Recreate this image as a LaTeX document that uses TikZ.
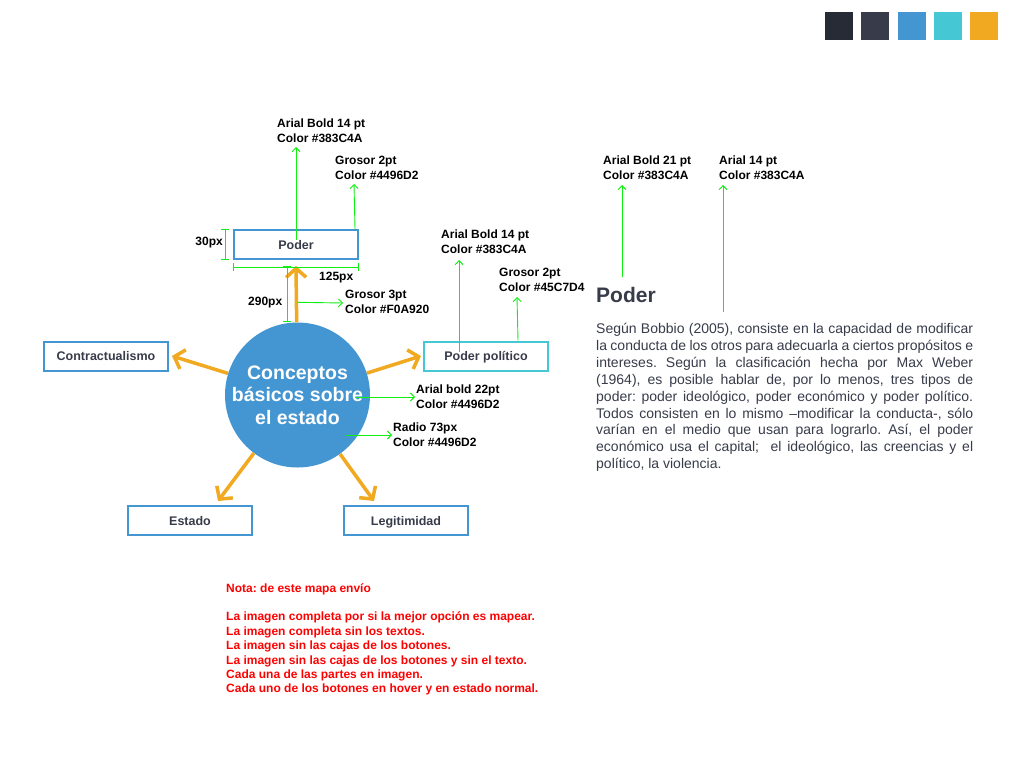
\documentclass[tikz,border=0pt]{standalone}
\usepackage{fontspec}
\setmainfont{Liberation Sans}
\frenchspacing
\usetikzlibrary{arrows.meta}
\definecolor{tx}{HTML}{383C4A}\definecolor{az}{HTML}{4496D2}\definecolor{cy}{HTML}{45C7D4}
\definecolor{na}{HTML}{F0A920}\definecolor{os}{HTML}{262B35}\definecolor{gr}{HTML}{11EE11}
\tikzset{bx/.style={draw=az,line width=2pt,minimum width=124pt,minimum height=29pt,inner sep=0pt,text height=11pt,text depth=2pt,font=\bfseries\fontsize{12.5}{15}\selectfont,text=tx},
 an/.style={anchor=north west,inner sep=0pt,align=left,font=\bfseries\fontsize{12}{15}\selectfont},
 ga/.style={draw=gr,line width=0.9pt,-{Straight Barb[length=4pt,width=8pt]}},
 dm/.style={draw=gr,line width=0.9pt,{Bar[width=8pt]}-{Bar[width=8pt]}},
 oa/.style={draw=na,line width=3.5pt,-{Straight Barb[length=9pt,width=20pt]}},
 sw/.style={minimum size=28pt,inner sep=0pt,anchor=north west}}
\begin{document}
\begin{tikzpicture}[x=1pt,y=-1pt]
\path[use as bounding box,fill=white](0,0)rectangle(1024,768);
\foreach\c[count=\i from 0] in {os,tx,az,cy,na}{\node[sw,fill=\c](s\i) at (825+36.25*\i,12){};}
\node[circle,fill=az,minimum size=145pt,inner sep=0pt](c) at (297.5,395){};
\node[text=white,align=center,inner sep=0pt,font=\bfseries\fontsize{19.5}{22.5}\selectfont](ct) at (c){Conceptos\\básicos sobre\\el estado};
\node[bx](poder) at (296,244.5){Poder};\node[bx](contr) at (106,356){Contractualismo};
\node[bx,draw=cy](pp) at (486,356){Poder político};
\node[bx](est) at (190,520.5){Estado};\node[bx](leg) at (406,520.5){Legitimidad};
\draw[oa](c)--([yshift=-6pt]poder.south);\draw[oa](c)--([xshift=3pt]contr.east);\draw[oa](c)--([xshift=-2pt]pp.west);
\draw[oa](c)--([shift={(28pt,4pt)}]est.north);\draw[oa](c)--([shift={(-32pt,4pt)}]leg.north);
\node[anchor=base west,inner sep=0pt,text=tx,font=\bfseries\fontsize{21}{25}\selectfont](hd) at (596,302){Poder};
\node[anchor=north west,inner sep=0pt,text width=377pt,align=justify,text=tx,font=\fontsize{14}{16.9}\selectfont](par) at (596,323){\hyphenpenalty=10000\tolerance=10000
Según Bobbio (2005), consiste en la capacidad de modificar\linebreak la conducta de los otros para adecuarla a ciertos propósitos e\linebreak intereses. Según la clasificación hecha por Max Weber\linebreak (1964), es posible hablar de, por lo menos, tres tipos de\linebreak poder: poder ideológico, poder económico y poder político.\linebreak Todos consisten en lo mismo –modificar la conducta-, sólo\linebreak varían en el medio que usan para lograrlo. Así, el poder\linebreak económico usa el capital;\ \ el ideológico, las creencias y el\linebreak político, la violencia.};
\node[an](l1) at (277,119){Arial Bold 14 pt\\Color \#383C4A};\node[an](l2) at (335,156){Grosor 2pt\\Color \#4496D2};
\node[an](l3) at (345,290){Grosor 3pt\\Color \#F0A920};\node[an](l4) at (441,230){Arial Bold 14 pt\\Color \#383C4A};
\node[an](l5) at (499,268){Grosor 2pt\\Color \#45C7D4};\node[an](l6) at (416,385){Arial bold 22pt\\Color \#4496D2};
\node[an](l7) at (393,423){Radio 73px\\Color \#4496D2};\node[an](l8) at (603,156){Arial Bold 21 pt\\Color \#383C4A};
\node[an](l9) at (719,156){Arial 14 pt\\Color \#383C4A};
\node[an,anchor=east](d1) at (223,243){30px};\node[an](d2) at (319,272){125px};\node[an](d3) at (248,297){290px};
\coordinate(t1) at (296,147);\coordinate(t2) at (354,184);\coordinate(t3) at (343,303);\coordinate(t4) at (459,260);
\coordinate(t5) at (517,297);\coordinate(t6) at (415,397);\coordinate(t7) at (392,435);\coordinate(t8) at (622,185);\coordinate(t9) at (723,185);
\draw[ga]([yshift=5pt]poder.center)--(t1);\draw[ga]([xshift=-4pt]poder.north east)--(t2);\draw[ga]([yshift=20pt]c.north)--(t3);
\draw[ga]([shift={(-27pt,4pt)}]pp.center)--(t4);\draw[ga]([xshift=-31pt]pp.north east)--(t5);
\draw[ga]([shift={(57.5pt,-2pt)}]c.center)--(t6);\draw[ga]([shift={(48.5pt,-40pt)}]c.center)--(t7);
\draw[ga]([shift={(26pt,25pt)}]hd.base west)--(t8);\draw[ga]([shift={(127pt,11pt)}]par.north west)--(t9);
\draw[dm]([xshift=-8pt]poder.north west)--([xshift=-8pt]poder.south west);
\draw[dm]([yshift=-7pt]poder.south west)--([yshift=-7pt]poder.south east);
\draw[dm]([shift={(-9pt,-6pt)}]poder.south)--([xshift=-10.5pt]c.north);
\node[an,text=red,font=\bfseries\fontsize{12}{14.4}\selectfont](nota) at (226,583){Nota: de este mapa envío\\[14.4pt]La imagen completa por si la mejor opción es mapear.\\La imagen completa sin los textos.\\La imagen sin las cajas de los botones.\\La imagen sin las cajas de los botones y sin el texto.\\Cada una de las partes en imagen.\\Cada uno de los botones en hover y en estado normal.};
\end{tikzpicture}
\end{document}
